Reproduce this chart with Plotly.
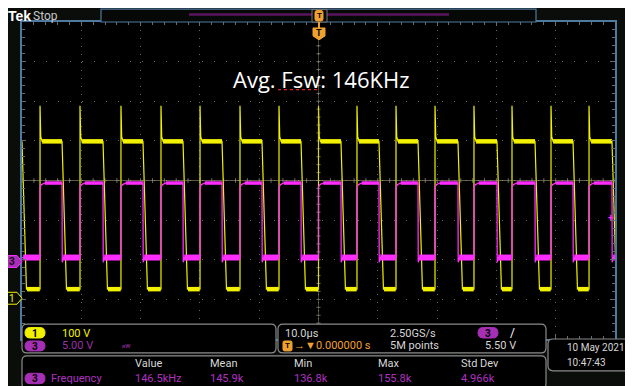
import plotly.graph_objects as go

# switching edges (us, 10 us/div, trigger at 0)
rise_us = [-46.96, -40.22, -33.31, -26.56, -19.98, -13.24, -6.66, 0.0,
           6.49, 13.07, 19.65, 26.22, 32.63, 39.21, 45.62]
fall_us = [-50.0, -43.25, -36.34, -29.60, -22.85, -16.27, -9.53, -2.95,
           3.79, 10.20, 16.78, 23.52, 30.10, 36.51, 42.92, 49.49]

# channel 1 (yellow, 100 V/div) levels in volts
ch1_high, ch1_low, ch1_spike = 396, 23, 486
# channel 3 (magenta, 5 V/div) levels in volts
ch3_high, ch3_low, ch3_knee = 9.9, 0.5, 9.4

stat_names = ["Value", "Mean", "Min", "Max", "Std Dev"]
stat_values = ["146.5kHz", "145.9k", "136.8k", "155.8k", "4.966k"]

YEL = "#f2f200"
MAG = "#ff2cff"
PUR = "#a62fb5"
BLUE = "#4f7aa0"
ORG = "#f0a030"
TXT = "#d6d6d6"
FONT = "Roboto"

# screen geometry in window pixels; the page puts the figure 8px in from top/left
OFF = 8
W, H = 633, 386
L, R, T, B = 22, 615, 20, 339


def px(x):
    return (x - L) / (R - L)


def py(y):
    return (B - y) / (B - T)


def rbox(x0, y0, x1, y1, r):
    a, b, c, d = px(x0), px(x1), py(y0), py(y1)
    rx, ry = r / (R - L), r / (B - T)
    return (f"M{a+rx},{c} L{b-rx},{c} Q{b},{c} {b},{c-ry} L{b},{d+ry} Q{b},{d} {b-rx},{d} "
            f"L{a+rx},{d} Q{a},{d} {a},{d+ry} L{a},{c-ry} Q{a},{c} {a+rx},{c} Z")


def poly(pts):
    return "M" + " L".join(f"{px(x)},{py(y)}" for x, y in pts) + " Z"


# ---- build the traces from the edge lists ----
c1x, c1y, c1bx, c1by = [], [], [], []
c3x, c3y, c3bx, c3by, c3lx, c3ly = [], [], [], [], [], []
for i, f in enumerate(fall_us):
    c1x += [f, f + 0.75]
    c1y += [ch1_high, ch1_low]
    if i == 0:
        c3x += [f]
        c3y += [ch3_low]
    else:
        c3x += [f, f + 0.04, f + 0.25]
        c3y += [ch3_high, ch3_low - 0.6, ch3_low]
    if i < len(rise_us):
        r = rise_us[i]
        c1x += [r, r, r + 0.12, r + 0.35]
        c1y += [ch1_low, ch1_spike, ch1_high + 12, ch1_high]
        c1bx += [f + 0.85, r - 0.05, None, r + 0.35, fall_us[i + 1], None]
        c1by += [ch1_low, ch1_low, None, ch1_high, ch1_high, None]
        c3x += [r, r, r + 0.25, r + 0.8]
        c3y += [ch3_low, ch3_knee, ch3_high - 0.2, ch3_high]
        c3lx += [f + 0.2, r - 0.02, None]
        c3ly += [ch3_low, ch3_low, None]
        c3bx += [r + 0.8, fall_us[i + 1], None]
        c3by += [ch3_high, ch3_high, None]
c3x += [50.5]
c3y += [ch3_low]
c3lx += [fall_us[-1] + 0.2, 50.5]
c3ly += [ch3_low, ch3_low]

fig = go.Figure()
fig.add_trace(go.Scatter(x=c1bx, y=c1by, yaxis="y2", mode="lines",
                         line=dict(color=YEL, width=4.5), hoverinfo="skip"))
fig.add_trace(go.Scatter(x=c1x, y=c1y, yaxis="y2", mode="lines",
                         line=dict(color=YEL, width=1.2), hoverinfo="skip"))
fig.add_trace(go.Scatter(x=c3bx, y=c3by, yaxis="y3", mode="lines",
                         line=dict(color=MAG, width=3.5), hoverinfo="skip"))
fig.add_trace(go.Scatter(x=c3lx, y=c3ly, yaxis="y3", mode="lines",
                         line=dict(color=MAG, width=6), hoverinfo="skip"))
fig.add_trace(go.Scatter(x=c3x, y=c3y, yaxis="y3", mode="lines",
                         line=dict(color=MAG, width=1.3), hoverinfo="skip"))

shapes = []
ann = []


def text(x, y, s, color=TXT, size=11, anchor="left", bold=False, family=FONT):
    ann.append(dict(x=px(x), y=py(y), xref="paper", yref="paper", text=f"<b>{s}</b>" if bold else s,
                    showarrow=False, xanchor=anchor, yanchor="middle",
                    font=dict(color=color, size=size, family=family)))


def pbox(x0, y0, x1, y1, r, line="#8a8a8a", fill="#000000", width=1.2, layer="above"):
    shapes.append(dict(type="path", path=rbox(x0, y0, x1, y1, r), xref="paper", yref="paper",
                       line=dict(color=line, width=width), fillcolor=fill, layer=layer))


def pill(x0, y0, x1, y1, fill, label, tcolor="#000000", outline=None):
    pbox(x0, y0, x1, y1, (y1 - y0) / 2, line=outline or fill, fill=fill, width=1)
    text((x0 + x1) / 2, (y0 + y1) / 2 + 0.5, label, color=tcolor, size=10, anchor="center", bold=True)


# trigger level / position lines
shapes.append(dict(type="line", xref="paper", yref="y", x0=0, x1=1, y0=0, y1=0,
                   line=dict(color="rgba(175,165,120,0.55)", width=1)))
shapes.append(dict(type="line", xref="x", yref="paper", x0=0, x1=0, y0=0, y1=py(38),
                   line=dict(color="rgba(175,165,120,0.4)", width=1)))

# record view bar on top
shapes.append(dict(type="rect", xref="paper", yref="paper", x0=px(101), x1=px(536), y0=py(7), y1=py(20),
                   line=dict(color=BLUE, width=1.2), fillcolor="#050805"))
shapes.append(dict(type="line", xref="paper", yref="paper", x0=px(189), x1=px(449), y0=py(12.5), y1=py(12.5),
                   line=dict(color="#5a1560", width=2.5)))
shapes.append(dict(type="rect", xref="paper", yref="paper", x0=px(312), x1=px(327), y0=py(7.5), y1=py(20),
                   line=dict(color="#7a7a7a", width=1), fillcolor="#050805"))
pbox(315, 8.5, 323, 19, 2, line=ORG, fill=ORG, width=1)
text(319, 13.5, "T", color="#000000", size=8, anchor="center", bold=True)
shapes.append(dict(type="path", xref="paper", yref="paper",
                   path=poly([(313, 26), (325, 26), (325, 34), (319, 38), (313, 34)]),
                   fillcolor=ORG, line=dict(color=ORG, width=1)))
shapes.append(dict(type="line", xref="paper", yref="paper", x0=px(319), x1=px(319), y0=py(20), y1=py(26),
                   line=dict(color=ORG, width=2)))
text(319, 31, "T", color="#000000", size=9, anchor="center", bold=True)

# channel ground markers
shapes.append(dict(type="path", xref="paper", yref="paper",
                   path=poly([(6, 255), (17, 255), (22, 261), (17, 267), (6, 267)]),
                   fillcolor=PUR, line=dict(color=MAG, width=1)))
text(12, 261.5, "3", color="#1a001a", size=10, anchor="center", bold=True)
shapes.append(dict(type="path", xref="paper", yref="paper",
                   path=poly([(6, 292), (17, 292), (22, 298), (17, 304), (6, 304)]),
                   fillcolor="#0a0d0a", line=dict(color=YEL, width=1)))
text(12, 298.5, "1", color=YEL, size=10, anchor="center")
text(611, 216.5, "+", color=MAG, size=10, anchor="center", bold=True)

# title text with spell-check squiggle
text(321, 77, "Avg. Fsw: 146KHz", color="#ffffff", size=22, anchor="center", family="Open Sans")
shapes.append(dict(type="line", xref="paper", yref="paper", x0=px(278), x1=px(317), y0=py(88), y1=py(88),
                   line=dict(color="#e02020", width=1.2, dash="dot")))

# top-left label
text(6, 13.5, "Tek", color="#ffffff", size=14, bold=True, family="Liberation Sans")
text(31, 14, "Stop", color="#c8c8c8", size=12)

# bottom panels
pbox(22, 324, 276, 353, 5)
pbox(278, 324, 546, 353, 5)
pbox(548, 339, 642, 371, 5)
pbox(22, 356, 546, 389, 5)

pill(25, 327.5, 45, 338, YEL, "1")
text(60, 333, "100 V", color=YEL)
pill(25, 341, 45, 351, PUR, "3")
text(60, 346, "5.00 V", color="#9a30a8")
text(120, 346, "ʙw", color="#9a30a8", size=7)

text(283, 333, "10.0µs")
pbox(283, 341, 292, 351, 1.5, line=ORG, fill=ORG, width=1)
text(287.5, 346, "T", color="#000000", size=8, anchor="center", bold=True)
text(292, 346, "→▼0.000000 s", color=ORG)
text(388, 333, "2.50GS/s")
text(388, 346, "5M points")
pill(478, 327.5, 498, 338, PUR, "3")
text(508, 333, "/", color="#ffffff", size=12)
text(483, 346, "5.50 V")

text(565, 348, "10 May 2021", size=10)
text(565, 363, "10:47:43", size=10)

stat_x = [133, 208, 292, 376, 459]
for name, val, sx in zip(stat_names, stat_values, stat_x):
    text(sx, 364, name)
    text(sx, 378.5, val, color="#b030c0")
pill(25, 373.5, 45, 384, PUR, "3")
text(49, 378.5, "Frequency", color="#b030c0")

# small ticks along the centre cross
tick_path = ""
for k in range(-25, 26):
    tick_path += f"M{k * 2},-0.06 L{k * 2},0.06 "
for k in range(-20, 21):
    tick_path += f"M-0.35,{k * 0.2} L0.35,{k * 0.2} "
shapes.append(dict(type="path", xref="x", yref="y", path=tick_path,
                   line=dict(color="#6a6a6a", width=1), layer="below"))

grid_line = dict(showticklabels=False, zeroline=False, showline=True, linecolor=BLUE, linewidth=1.5,
                 mirror="ticks", ticks="inside", ticklen=4, tickcolor="#6a6a6a")

fig.update_layout(
    width=W - OFF, height=H - OFF,
    margin=dict(l=L - OFF, r=W - R, t=T - OFF, b=H - B),
    paper_bgcolor="#0a0d0a", plot_bgcolor="#000000",
    showlegend=False,
    xaxis=dict(range=[-50, 50], dtick=10, tick0=0, showgrid=True, gridcolor="#6a6a6a",
               griddash="1px,7px", gridwidth=1,
               minor=dict(dtick=2, ticks="inside", ticklen=3, tickcolor="#6a6a6a", showgrid=False),
               **grid_line),
    yaxis=dict(range=[-4, 4], dtick=1, tick0=0, showgrid=True, gridcolor="#6a6a6a",
               griddash="1px,11px", gridwidth=1,
               minor=dict(dtick=0.2, ticks="inside", ticklen=3, tickcolor="#6a6a6a", showgrid=False),
               **grid_line),
    yaxis2=dict(range=[-102.8, 697.2], overlaying="y", visible=False),
    yaxis3=dict(range=[-9.78, 30.22], overlaying="y", visible=False),
    shapes=shapes,
    annotations=ann,
)

fig.write_html("out.html")
